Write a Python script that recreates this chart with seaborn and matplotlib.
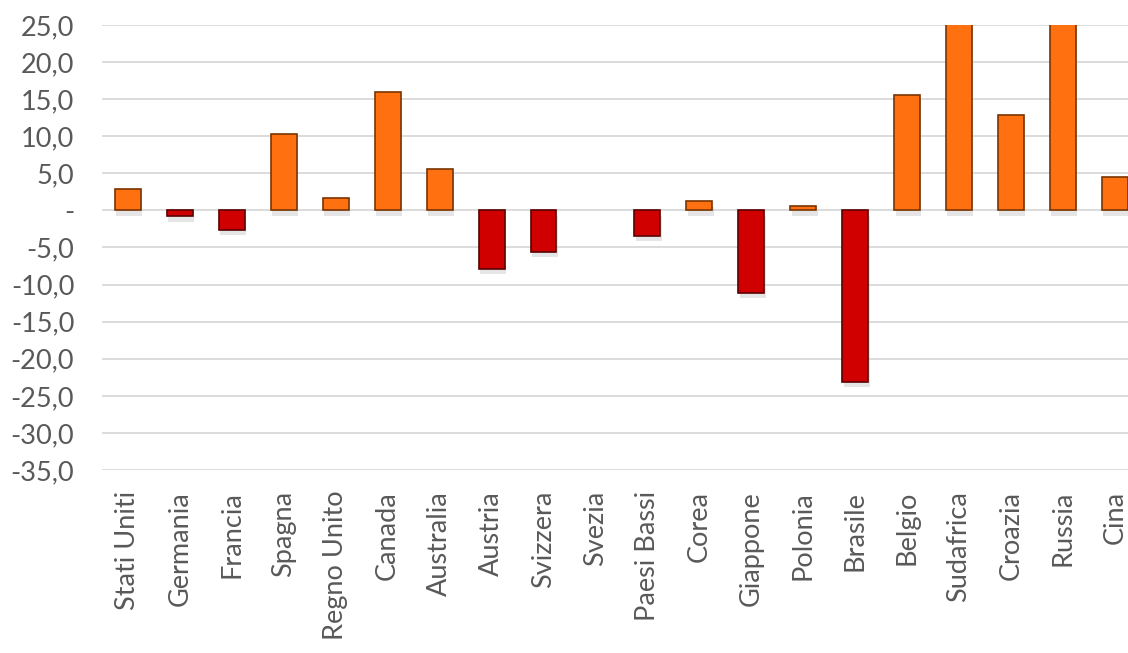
import matplotlib
matplotlib.use("Agg")
import matplotlib.pyplot as plt
import matplotlib.patheffects as pe
from matplotlib.ticker import FuncFormatter
import seaborn as sns
import pandas as pd

countries = ["Stati Uniti", "Germania", "Francia", "Spagna", "Regno Unito", "Canada",
             "Australia", "Austria", "Svizzera", "Svezia", "Paesi Bassi", "Corea",
             "Giappone", "Polonia", "Brasile", "Belgio", "Sudafrica", "Croazia",
             "Russia", "Cina"]
values = [2.9, -0.8, -2.6, 10.3, 1.6, 15.9, 5.6, -7.9, -5.6, 0.0, -3.4, 1.2,
          -11.1, 0.6, -23.1, 15.6, 30.0, 12.9, 30.0, 4.5]
y_ticks = [25, 20, 15, 10, 5, 0, -5, -10, -15, -20, -25, -30, -35]

df = pd.DataFrame({"paese": countries, "valore": values})
df["segno"] = ["pos" if v >= 0 else "neg" for v in values]

sns.set_theme(style="white")
plt.rcParams["font.family"] = ["Lato", "DejaVu Sans"]

fig = plt.figure(figsize=(11.28, 6.53), dpi=100)
ax = fig.add_axes([0.0904, 0.2802, 0.921, 0.6818])

palette = {"pos": "#FF7010", "neg": "#D00000"}
sns.barplot(data=df, x="paese", y="valore", hue="segno", palette=palette,
            dodge=False, width=0.5, legend=False, ax=ax, order=countries,
            saturation=1)

edge = {"pos": "#7A3400", "neg": "#5A0000"}
for patch in ax.patches:
    h = patch.get_height()
    if abs(h) < 1e-9:
        patch.set_visible(False)
        continue
    patch.set_edgecolor(edge["pos"] if h >= 0 else edge["neg"])
    patch.set_linewidth(1.2)
    patch.set_path_effects([pe.SimplePatchShadow(offset=(1, -4), shadow_rgbFace="#999999", alpha=0.25),
                            pe.Normal()])
    patch.set_zorder(3)

ax.set_ylim(-35, 25)
ax.set_xlim(-0.5, len(countries) - 0.5)
ax.set_yticks(y_ticks)

def fmt(v, pos):
    if abs(v) < 1e-9:
        return "-"
    return f"{v:.1f}".replace(".", ",")

ax.yaxis.set_major_formatter(FuncFormatter(fmt))
ax.grid(axis="y", color="#D9D9D9", linewidth=1.3, zorder=0)
ax.set_axisbelow(True)
for s in ax.spines.values():
    s.set_visible(False)
ax.tick_params(axis="y", length=0, pad=20, labelsize=19.5, labelcolor="#595959")
ax.tick_params(axis="x", length=0, pad=15, labelsize=19.5, labelcolor="#595959", rotation=90)
ax.set_xlabel("")
ax.set_ylabel("")

fig.savefig("out.png", dpi=100)
